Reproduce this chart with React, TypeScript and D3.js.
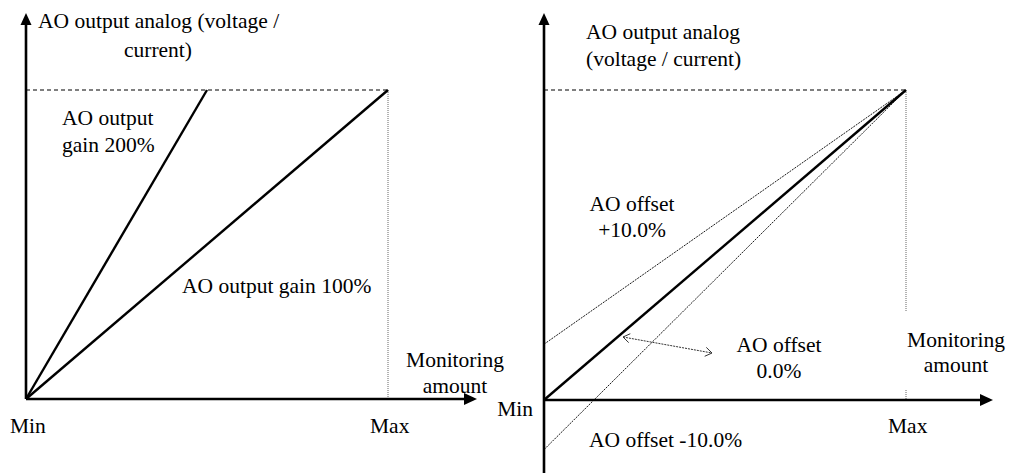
import React from "react";
import * as d3 from "d3";

// ---- data ----
const xCategories = ["Min", "Max"];
const gainValues = [100, 200]; // AO output gain, %
const offsetValues = [10, 0, -10]; // AO offset, %
const offsetIntercepts = [0.18, 0, -0.16]; // where each offset line meets the y axis (fraction of full scale, as drawn)
const leftTitle = ["AO output analog (voltage /", "current)"];
const rightTitle = ["AO output analog", "(voltage / current)"];
const xAxisTitle = ["Monitoring", "amount"];

const W = 1014;
const H = 473;
const FONT = "Liberation Serif, Tinos, Times New Roman, DejaVu Serif, serif";
const FS = 21.5;

function Arrow({ x, y, dir }: { x: number; y: number; dir: "up" | "right" }) {
  const p =
    dir === "up"
      ? `M${x},${y} L${x - 5.5},${y + 12} L${x + 5.5},${y + 12} Z`
      : `M${x},${y} L${x - 13},${y - 6} L${x - 13},${y + 6} Z`;
  return <path d={p} fill="#000" />;
}

export default function App() {
  // left panel scales
  const xL = d3.scaleLinear().domain([0, 1]).range([26, 388]);
  const yL = d3.scaleLinear().domain([0, 1]).range([399, 90]);
  // right panel scales
  const xR = d3.scaleLinear().domain([0, 1]).range([544, 906]);
  const yR = d3.scaleLinear().domain([0, 1]).range([400, 90]);

  const lineL = d3
    .line<[number, number]>()
    .x((d) => xL(d[0]))
    .y((d) => yL(d[1]));
  const lineR = d3
    .line<[number, number]>()
    .x((d) => xR(d[0]))
    .y((d) => yR(d[1]));

  const text = (x: number, y: number, s: string, anchor = "start", key?: string) => (
    <text
      key={key ?? s + x + y}
      x={x}
      y={y}
      textAnchor={anchor}
      style={{ fontFamily: FONT, fontSize: FS }}
      fill="#000"
    >
      {s}
    </text>
  );

  // double arrow between label and main line (right panel)
  const a1 = [623, 337];
  const a2 = [712, 353];
  const ang = Math.atan2(a2[1] - a1[1], a2[0] - a1[0]);
  const head = (px: number, py: number, a: number) => {
    const L = 8;
    const s = 0.6;
    return `M${px + L * Math.cos(a + s)},${py + L * Math.sin(a + s)} L${px},${py} L${px + L * Math.cos(a - s)},${py + L * Math.sin(a - s)}`;
  };

  return (
    <svg width={W} height={H} style={{ position: "absolute", left: 0, top: 0, background: "#fff" }}>
      <rect width={W} height={H} fill="#fff" />
      {/* ---------- LEFT PANEL ---------- */}
      <line x1={xL(0)} y1={yL(1)} x2={xL(1)} y2={yL(1)} stroke="#000" strokeWidth={1.2} strokeDasharray="4,3" />
      <line x1={xL(1)} y1={yL(1)} x2={xL(1)} y2={yL(0)} stroke="#666" strokeWidth={1} strokeDasharray="1,1" />
      {gainValues.map((g) => (
        <path
          key={g}
          d={lineL([
            [0, 0],
            [100 / g, 1],
          ])!}
          stroke="#000"
          strokeWidth={2.4}
          fill="none"
        />
      ))}
      <line x1={xL(0)} y1={yL(0)} x2={xL(0)} y2={20} stroke="#000" strokeWidth={2.6} />
      <Arrow x={xL(0)} y={13} dir="up" />
      <line x1={xL(0)} y1={yL(0)} x2={470} y2={yL(0)} stroke="#000" strokeWidth={2.6} />
      <Arrow x={477} y={yL(0)} dir="right" />
      {text(38, 28, leftTitle[0])}
      {text(158, 57, leftTitle[1], "middle")}
      {text(62, 125, "AO output")}
      {text(62, 152, `gain ${gainValues[1]}%`)}
      {text(182, 293, `AO output gain ${gainValues[0]}%`)}
      {text(455, 367, xAxisTitle[0], "middle")}
      {text(455, 393, xAxisTitle[1], "middle")}
      {text(10, 433, xCategories[0])}
      {text(370, 433, xCategories[1])}

      {/* ---------- RIGHT PANEL ---------- */}
      <line x1={xR(0)} y1={yR(1)} x2={xR(1)} y2={yR(1)} stroke="#000" strokeWidth={1.2} strokeDasharray="4,3" />
      <line x1={xR(1)} y1={yR(1)} x2={xR(1)} y2={312} stroke="#666" strokeWidth={1} strokeDasharray="1,1" />
      <line x1={xR(1)} y1={390} x2={xR(1)} y2={yR(0)} stroke="#666" strokeWidth={1} strokeDasharray="1,1" />
      {offsetValues.map((o, i) => (
        <path
          key={o}
          d={lineR([
            [0, offsetIntercepts[i]],
            [1, 1],
          ])!}
          stroke="#000"
          strokeWidth={o === 0 ? 2.4 : 0.9}
          strokeDasharray={o === 0 ? undefined : "2,1"}
          fill="none"
        />
      ))}
      <line x1={a1[0]} y1={a1[1]} x2={a2[0]} y2={a2[1]} stroke="#333" strokeWidth={1} strokeDasharray="2,1" />
      <path d={head(a1[0], a1[1], ang)} stroke="#333" strokeWidth={1} fill="none" />
      <path d={head(a2[0], a2[1], ang + Math.PI)} stroke="#333" strokeWidth={1} fill="none" />
      <line x1={xR(0)} y1={H} x2={xR(0)} y2={20} stroke="#000" strokeWidth={2.6} />
      <Arrow x={xR(0)} y={13} dir="up" />
      <line x1={xR(0)} y1={yR(0)} x2={986} y2={yR(0)} stroke="#000" strokeWidth={2.6} />
      <Arrow x={993} y={yR(0)} dir="right" />
      {text(586, 39, rightTitle[0])}
      {text(586, 66, rightTitle[1])}
      {text(632, 211, "AO offset", "middle", "o1")}
      {text(632, 237, `+${offsetValues[0].toFixed(1)}%`, "middle")}
      {text(779, 352, "AO offset", "middle", "o2")}
      {text(779, 378, `${offsetValues[1].toFixed(1)}%`, "middle")}
      {text(589, 447, `AO offset ${offsetValues[2].toFixed(1)}%`)}
      {text(956, 347, xAxisTitle[0], "middle", "m2")}
      {text(956, 372, xAxisTitle[1], "middle", "a2")}
      {text(533, 416, xCategories[0], "end", "min2")}
      {text(888, 433, xCategories[1], "start", "max2")}
    </svg>
  );
}
